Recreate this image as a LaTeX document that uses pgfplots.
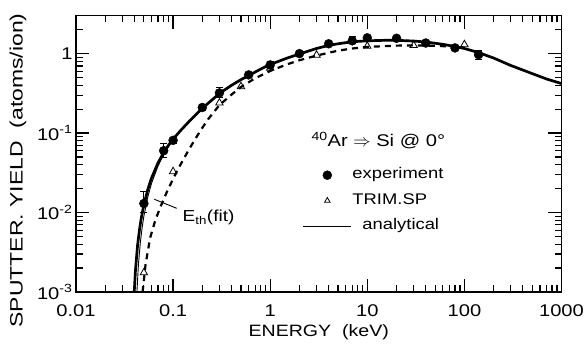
\documentclass[border=0pt]{standalone}
\usepackage{fontspec}
\setmainfont{Liberation Sans}[FakeStretch=1.19]
\newfontfamily\ylabfam{Liberation Sans}[FakeStretch=1.28]
\usepackage{pgfplots}
\usepackage{pgfplotstable}
\pgfplotsset{compat=1.18}

\pgfplotsset{
  markleg/.style={legend image code/.code={%
    \path[draw=none, fill=none] (0bp,0bp) rectangle (48bp,0.1bp);
    \draw[##1] plot coordinates {(24bp,0bp)};}},
  smallmarkleg/.style={legend image code/.code={%
    \path[draw=none, fill=none] (0bp,0bp) rectangle (48bp,0.1bp);
    \draw[##1, mark size=3.2bp] plot coordinates {(24bp,0bp)};}},
  lineleg/.style={legend image code/.code={%
    \draw[##1] (0bp,0bp) -- (48bp,0bp);}},
}

% measured sputter yields, with upper / lower errors
\pgfplotstableread{
E     Y       ep      em
0.05  0.0130  0.0053  0.0030
0.08  0.060   0.015   0.010
0.10  0.081   0.006   0.006
0.20  0.21    0.02    0.02
0.30  0.32    0.05    0.04
0.60  0.54    0.03    0.03
1.0   0.72    0.08    0.06
2.0   1.00    0.05    0.05
4.0   1.33    0.08    0.08
7.0   1.45    0.20    0.10
10    1.58    0.05    0.05
20    1.56    0.05    0.05
40    1.36    0.05    0.05
80    1.18    0.05    0.05
140   0.97    0.12    0.12
}\expdata

% TRIM.SP simulation
\pgfplotstableread{
E     Y
0.05  0.00175
0.1   0.0328
0.3   0.24
0.5   0.385
1     0.66
3     0.96
10    1.24
30    1.27
100   1.30
}\trimdata

% analytical formula
\pgfplotstableread{
E       Y
0.0398  0.0010
0.041   0.0019
0.043   0.0038
0.045   0.0060
0.047   0.0085
0.050   0.0125
0.055   0.0197
0.060   0.0272
0.070   0.0423
0.080   0.0569
0.090   0.0708
0.100   0.0840
0.120   0.1083
0.150   0.145
0.200   0.205
0.300   0.315
0.400   0.400
0.500   0.470
0.600   0.530
0.800   0.640
1.0     0.730
1.5     0.880
2.0     0.990
3.0     1.160
4.0     1.270
5.0     1.330
7.0     1.410
10      1.450
15      1.470
20      1.470
30      1.440
40      1.400
60      1.310
80      1.230
100     1.160
140     1.030
200     0.880
300     0.710
500     0.560
700     0.480
1000    0.420
}\anadata

% analytical formula with fitted threshold energy
\pgfplotstableread{
E       Y
0.0424  0.0010
0.044   0.00227
0.046   0.00421
0.048   0.00648
0.050   0.00898
0.055   0.01589
0.060   0.02333
0.070   0.03862
0.080   0.0537
0.090   0.0682
0.100   0.0820
0.120   0.1076
0.150   0.1416
0.200   0.203
0.300   0.313
0.500   0.469
0.600   0.530
1.0     0.730
}\fitdata

% fit to the TRIM.SP values
\pgfplotstableread{
E      Y
0.0485 0.0010
0.052  0.0022
0.058  0.0048
0.066  0.0082
0.075  0.0122
0.086  0.0180
0.100  0.0265
0.115  0.0370
0.133  0.0510
0.150  0.0660
0.170  0.0850
0.192  0.1080
0.230  0.1500
0.300  0.2250
0.400  0.3050
0.500  0.3800
0.700  0.4900
1.0    0.6050
1.5    0.7350
2.0    0.8250
3.0    0.9450
5.0    1.0900
7.0    1.1600
10     1.2150
20     1.2600
30     1.2700
50     1.2550
70     1.2300
100    1.1900
}\trimfit

\begin{document}
\begin{tikzpicture}
\useasboundingbox (-76bp,-55bp) rectangle (508bp,292bp);
\begin{axis}[
  scale only axis,
  width=485.5bp, height=276.3bp,
  xmode=log, ymode=log,
  xmin=0.01, xmax=1000, ymin=0.001, ymax=3,
  xtick={0.01,0.1,1,10,100,1000},
  xticklabels={0.01,0.1,1,10,100,1000},
  minor xtick={0.02,0.03,0.04,0.05,0.06,0.07,0.08,0.09,
    0.2,0.3,0.4,0.5,0.6,0.7,0.8,0.9,2,3,4,5,6,7,8,9,
    20,30,40,50,60,70,80,90,200,300,400,500,600,700,800,900},
  ytick={0.001,0.01,0.1,1},
  yticklabels={10\textsuperscript{-3},10\textsuperscript{-2},10\textsuperscript{-1},1},
  minor ytick={0.002,0.003,0.004,0.005,0.006,0.007,0.008,0.009,
    0.02,0.03,0.04,0.05,0.06,0.07,0.08,0.09,
    0.2,0.3,0.4,0.5,0.6,0.7,0.8,0.9,2,3},
  /pgf/number format/assume math mode=true,
  tick align=inside,
  major tick length=13.3bp, minor tick length=6.7bp,
  every tick/.style={black, line width=1.2bp},
  axis line style={line width=1.5bp},
  tick label style={font=\fontsize{17}{20}\selectfont},
  xticklabel style={anchor=base, yshift=-24.7bp},
  xlabel={ENERGY\ \ (keV)},
  xlabel style={at={(axis description cs:0.5,-0.162)}, anchor=base,
    font=\fontsize{16.5}{19}\selectfont},
  ylabel={SPUTTER.\ YIELD\ \ (atoms/ion)},
  ylabel style={at={(axis description cs:-0.1195,0.44)}, anchor=center,
    font=\ylabfam\fontsize{18}{21}\selectfont},
  legend style={draw=none, fill=none, at={(0.4669,0.468)}, anchor=north west,
    inner sep=0pt, outer sep=0pt, row sep=0.5bp, column sep=0pt,
    font=\fontsize{15.5}{18}\selectfont,
    nodes={inner xsep=0.5bp, inner ysep=5.25bp, text height=11bp, text depth=3.5bp}},
  legend cell align=left,
]
\addplot[black, line width=2.7bp, forget plot] table[x=E, y=Y] {\anadata};
\addplot[black, line width=0.9bp, forget plot] table[x=E, y=Y] {\fitdata};
\addplot[black, line width=2.2bp, dash pattern=on 6bp off 5bp, forget plot]
  table[x=E, y=Y] {\trimfit};

\addplot[only marks, mark=*, mark size=4.5bp, black, markleg,
  error bars/.cd, y dir=both, y explicit,
  error bar style={line width=1bp}, error mark options={rotate=90, mark size=3.5bp, line width=1bp}]
  table[x=E, y=Y, y error plus=ep, y error minus=em] {\expdata};
\addlegendentry{experiment}

\addplot[only marks, mark=triangle, mark size=4.3bp, black, mark options={line width=0.8bp, fill=white},
  smallmarkleg]
  table[x=E, y=Y] {\trimdata};
\addlegendentry{TRIM.SP}

\addlegendimage{black, line width=1.3bp, lineleg}
\addlegendentry{\hspace{10bp}analytical}

% leader line to the fitted-threshold curve
\addplot[black, line width=0.9bp, forget plot] coordinates {(0.064,0.0147) (0.109,0.0113)};

\node[anchor=base west, font=\fontsize{16}{19}\selectfont]
  at (axis cs:0.1156,0.00768) {E\textsubscript{th}(fit)};
\node[anchor=base west, font=\fontsize{17}{20}\selectfont]
  at (axis cs:2.45,0.0678) {\textsuperscript{40}Ar $\Rightarrow$ Si @ 0°};
\end{axis}
\end{tikzpicture}
\end{document}
